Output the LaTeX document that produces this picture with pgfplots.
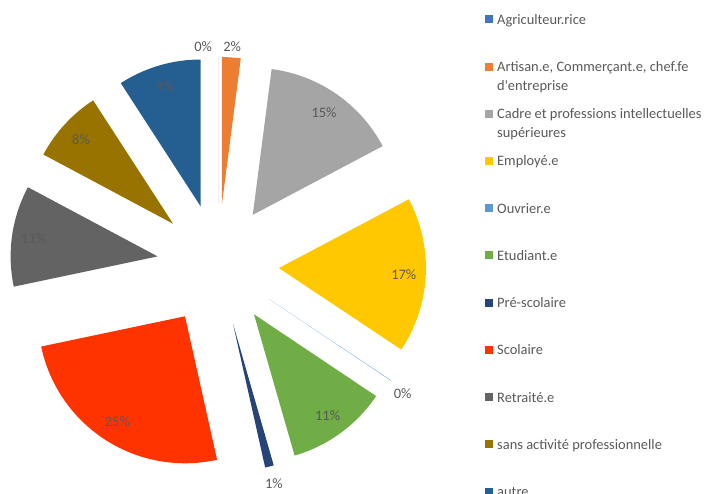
\documentclass[border=0pt]{standalone}
\usepackage{pgfplots}
\pgfplotsset{compat=1.18}
\usepackage{pgfplotstable}
\usepackage{fontspec}
\setmainfont{Carlito}

\definecolor{agri}{HTML}{4472C4}
\definecolor{arti}{HTML}{ED7D31}
\definecolor{cadre}{HTML}{A5A5A5}
\definecolor{empl}{HTML}{FFC800}
\definecolor{ouvr}{HTML}{5B9BD5}
\definecolor{etud}{HTML}{70AD47}
\definecolor{presc}{HTML}{264478}
\definecolor{scol}{HTML}{FF3300}
\definecolor{retr}{HTML}{636363}
\definecolor{sans}{HTML}{997300}
\definecolor{autre}{HTML}{255E91}
\definecolor{txt}{HTML}{595959}

% share in percent, shown label, label distance, label angle shift, colour
\pgfplotstableread{
value  pct  lr   da    col
0      0    158  5.4   agri
2.05   2    158  0     arti
15.2   15   125  0     cadre
17.1   17   125  0     empl
0.04   0    164  -1.5  ouvr
11.15  11   125  0     etud
0.96   1    165  0     presc
25.2   25   125  0     scol
11.1   11   125  0     retr
8.05   8    125  0     sans
9.15   9    125  0     autre
}\piedata

\tikzset{
  pielabel/.style={text=txt, font=\fontsize{14.5}{17}\selectfont, inner sep=0pt},
  legtext/.style={text=txt, font=\fontsize{14.5}{17}\selectfont, inner sep=0pt, anchor=base west},
}

% legend row: index, colour, text
\newcommand\legitem[3]{%
  \fill[#2] (axis cs:485,{494-19.3-47.23*#1-4}) rectangle (axis cs:493,{494-19.3-47.23*#1+4});
  \node[legtext] at (axis cs:497,{494-24.3-47.23*#1}) {#3};}
\newcommand\legline[2]{%
  \node[legtext] at (axis cs:497,{494-24.3-18.6-47.23*#1}) {#2};}

\def\cx{218}
\def\cy{229}
\def\R{147}
\def\expl{61}

\begin{document}
\begin{tikzpicture}
\useasboundingbox (0,0) rectangle (717bp,494bp);
\begin{axis}[x=1bp, y=1bp, xmin=0, xmax=717, ymin=0, ymax=494,
    hide axis, clip=false]

\pgfplotstablegetrowsof{\piedata}
\pgfmathtruncatemacro\lastrow{\pgfplotsretval-1}
\def\cum{0}
\pgfplotsforeachungrouped \i in {0,...,\lastrow}{%
  \pgfplotstablegetelem{\i}{value}\of\piedata \let\val\pgfplotsretval
  \pgfplotstablegetelem{\i}{pct}\of\piedata \let\pct\pgfplotsretval
  \pgfplotstablegetelem{\i}{lr}\of\piedata \let\lr\pgfplotsretval
  \pgfplotstablegetelem{\i}{da}\of\piedata \let\da\pgfplotsretval
  \pgfplotstablegetelem{\i}{col}\of\piedata \let\col\pgfplotsretval
  \pgfmathsetmacro\aS{90-3.6*\cum}
  \pgfmathsetmacro\aE{90-3.6*(\cum+\val)}
  \pgfmathsetmacro\aM{(\aS+\aE)/2}
  \pgfmathsetmacro\tx{\cx+\expl*cos(\aM)}
  \pgfmathsetmacro\ty{\cy+\expl*sin(\aM)}
  \pgfmathsetmacro\sx{\tx+\R*cos(\aS)}
  \pgfmathsetmacro\sy{\ty+\R*sin(\aS)}
  \pgfmathsetmacro\lx{\tx+\lr*cos(\aM+\da)}
  \pgfmathsetmacro\ly{\ty+\lr*sin(\aM+\da)}
  \pgfmathsetmacro\cum{\cum+\val}
  \edef\doslice{%
    \noexpand\fill[\col] (axis cs:\tx,\ty) -- (axis cs:\sx,\sy)
      arc[start angle=\aS, end angle=\aE, radius=\R bp] -- cycle;
    \noexpand\node[pielabel] at (axis cs:\lx,\ly) {\pct\noexpand\%};}%
  \doslice
}

\legitem{0}{agri}{Agriculteur.rice}
\legitem{1}{arti}{Artisan.e, Commerçant.e, chef.fe}
\legline{1}{d\textquotesingle entreprise}
\legitem{2}{cadre}{Cadre et professions intellectuelles}
\legline{2}{supérieures}
\legitem{3}{empl}{Employé.e}
\legitem{4}{ouvr}{Ouvrier.e}
\legitem{5}{etud}{Etudiant.e}
\legitem{6}{presc}{Pré-scolaire}
\legitem{7}{scol}{Scolaire}
\legitem{8}{retr}{Retraité.e}
\legitem{9}{sans}{sans activité professionnelle}
\legitem{10}{autre}{autre}
\end{axis}
\end{tikzpicture}
\end{document}
